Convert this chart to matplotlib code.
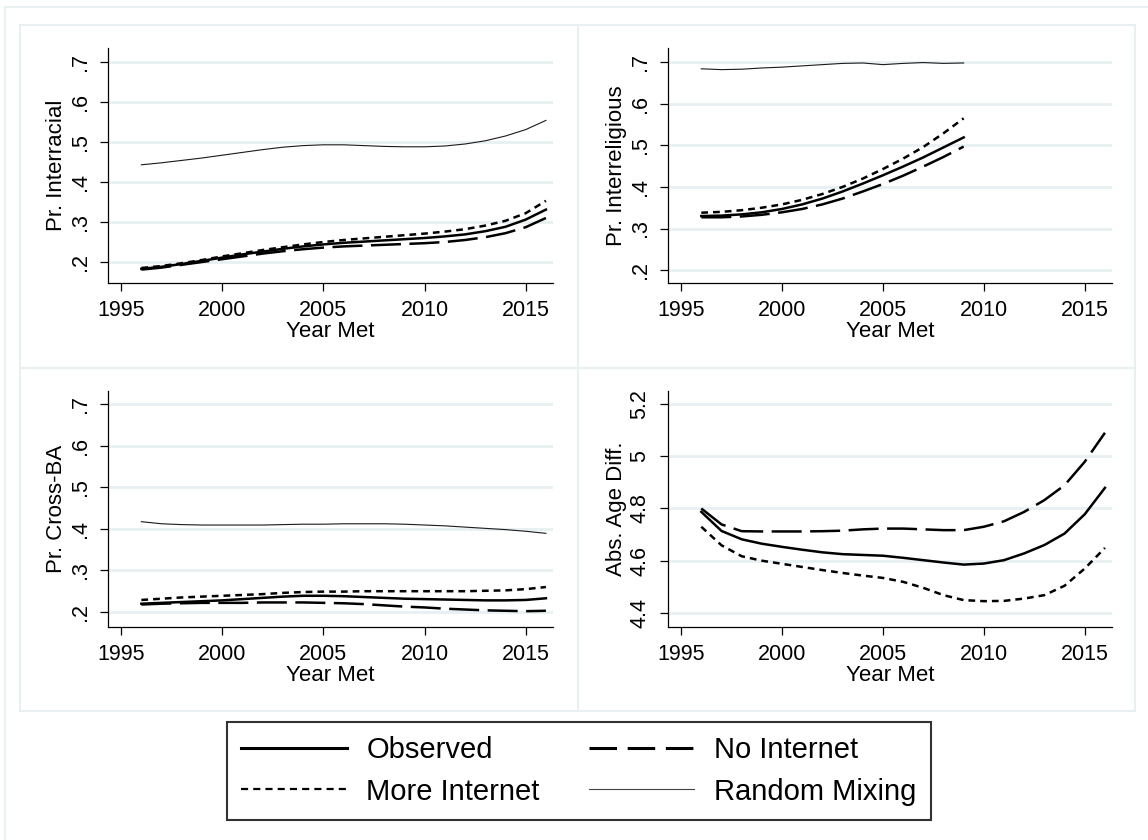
import matplotlib.pyplot as plt
from matplotlib.patches import Rectangle
from matplotlib.lines import Line2D

plt.rcParams['font.family'] = ['Liberation Sans', 'DejaVu Sans']

years = list(range(1996, 2017))
years_rel = list(range(1996, 2010))

# Pr. Interracial
race_obs = [.183, .188, .195, .203, .211, .219, .226, .233, .239, .244, .248, .251, .254, .257, .260, .264, .269, .277, .288, .306, .331]
race_more = [.185, .190, .197, .205, .214, .222, .230, .237, .244, .250, .255, .259, .263, .267, .271, .276, .282, .291, .303, .322, .353]
race_none = [.181, .186, .193, .200, .207, .214, .221, .227, .232, .236, .239, .241, .243, .245, .247, .250, .255, .262, .272, .287, .310]
race_rand = [.443, .448, .454, .460, .467, .474, .481, .487, .491, .493, .493, .491, .489, .488, .488, .490, .495, .503, .515, .531, .554]

# Pr. Interreligious (ends 2009)
rel_obs = [.330, .331, .334, .339, .347, .358, .372, .389, .408, .428, .449, .471, .495, .519]
rel_more = [.338, .340, .344, .350, .358, .369, .383, .400, .420, .443, .468, .496, .529, .565]
rel_none = [.327, .327, .329, .333, .339, .347, .358, .372, .389, .407, .427, .449, .472, .497]
rel_rand = [.684, .682, .683, .686, .688, .691, .694, .697, .698, .694, .697, .699, .697, .698]

# Pr. Cross-BA
ba_obs = [.220, .222, .224, .226, .228, .231, .234, .237, .239, .239, .238, .236, .234, .232, .231, .230, .229, .228, .228, .229, .233]
ba_more = [.229, .232, .235, .237, .239, .241, .243, .246, .248, .249, .249, .250, .250, .250, .250, .250, .250, .251, .252, .255, .260]
ba_none = [.218, .220, .221, .222, .222, .222, .223, .223, .223, .222, .221, .219, .216, .213, .211, .208, .206, .204, .203, .202, .203]
ba_rand = [.417, .412, .410, .409, .409, .409, .409, .410, .411, .411, .412, .412, .412, .411, .409, .407, .404, .401, .398, .394, .389]

# Abs. Age Diff.
age_obs = [4.787, 4.714, 4.682, 4.665, 4.653, 4.642, 4.632, 4.625, 4.622, 4.619, 4.611, 4.602, 4.593, 4.585, 4.589, 4.602, 4.628, 4.660, 4.704, 4.778, 4.879]
age_none = [4.800, 4.739, 4.713, 4.712, 4.712, 4.712, 4.713, 4.715, 4.720, 4.723, 4.723, 4.720, 4.717, 4.717, 4.730, 4.751, 4.787, 4.832, 4.889, 4.979, 5.090]
age_more = [4.730, 4.659, 4.617, 4.600, 4.588, 4.576, 4.564, 4.553, 4.543, 4.534, 4.519, 4.496, 4.468, 4.449, 4.445, 4.446, 4.455, 4.468, 4.504, 4.570, 4.649]

x_ticks = [1995, 2000, 2005, 2010, 2015]
pr_ticks = [.2, .3, .4, .5, .6, .7]
pr_labels = ['.2', '.3', '.4', '.5', '.6', '.7']
age_ticks = [4.4, 4.6, 4.8, 5.0, 5.2]
age_labels = ['4.4', '4.6', '4.8', '5', '5.2']

legend_labels = ['Observed', 'No Internet', 'More Internet', 'Random Mixing']

W, H = 1148, 840
GRID = '#e8f0f2'
LW = 1.8
obs_style = dict(color='black', lw=LW, ls='-')
none_style = dict(color='black', lw=LW, ls=(0, (12, 3.4)))
more_style = dict(color='black', lw=LW, ls=(0, (2.7, 2.0)))
rand_style = dict(color='#1a1a1a', lw=0.8, ls='-')


def px_box(x0, y0, x1, y1):
    # pixel box (from top-left) -> figure fraction [l, b, w, h]
    return [x0 / W, 1 - y1 / H, (x1 - x0) / W, (y1 - y0) / H]


def style_axes(ax, ylabel, ylim, yticks, ylabels):
    ax.set_xlim(1994.35, 2016.35)
    ax.set_ylim(*ylim)
    ax.set_xticks(x_ticks)
    ax.set_xticklabels([str(t) for t in x_ticks], fontsize=15.5)
    ax.set_yticks(yticks)
    ax.set_yticklabels(ylabels, fontsize=15.5, rotation=90, va='center')
    ax.tick_params(axis='both', length=6, width=0.9, pad=6.5, direction='out')
    for s in ['top', 'right']:
        ax.spines[s].set_visible(False)
    for s in ['left', 'bottom']:
        ax.spines[s].set_linewidth(0.9)
    ax.yaxis.grid(True, color=GRID, lw=2)
    ax.set_axisbelow(True)
    ax.set_xlabel('Year Met', fontsize=16, labelpad=0)
    ax.set_ylabel(ylabel, fontsize=16, labelpad=2)


fig = plt.figure(figsize=(W / 100, H / 100), dpi=100)

# panel frames and outer frame
for (x0, y0, x1, y1) in [(20, 25, 578, 368), (578, 25, 1135, 368),
                         (20, 368, 578, 711), (578, 368, 1135, 711)]:
    l, b, w, h = px_box(x0, y0, x1, y1)
    fig.add_artist(Rectangle((l, b), w, h, transform=fig.transFigure,
                             fill=False, edgecolor=GRID, lw=1.5))
fig.add_artist(Line2D([5 / W, 5 / W], [0, 1 - 7 / H], transform=fig.transFigure, color=GRID, lw=1.5))
fig.add_artist(Line2D([5 / W, 1], [1 - 7 / H, 1 - 7 / H], transform=fig.transFigure, color=GRID, lw=1.5))

ax1 = fig.add_axes(px_box(108, 48, 553, 283))
ax2 = fig.add_axes(px_box(668, 48, 1112, 283))
ax3 = fig.add_axes(px_box(108, 391, 553, 627))
ax4 = fig.add_axes(px_box(668, 391, 1112, 627))

ax1.plot(years, race_obs, **obs_style)
ax1.plot(years, race_none, **none_style)
ax1.plot(years, race_more, **more_style)
ax1.plot(years, race_rand, **rand_style)
style_axes(ax1, 'Pr. Interracial', (0.1475, 0.735), pr_ticks, pr_labels)

ax2.plot(years_rel, rel_obs, **obs_style)
ax2.plot(years_rel, rel_none, **none_style)
ax2.plot(years_rel, rel_more, **more_style)
ax2.plot(years_rel, rel_rand, **rand_style)
style_axes(ax2, 'Pr. Interreligious', (0.169, 0.734), pr_ticks, pr_labels)

ax3.plot(years, ba_obs, **obs_style)
ax3.plot(years, ba_none, **none_style)
ax3.plot(years, ba_more, **more_style)
ax3.plot(years, ba_rand, **rand_style)
style_axes(ax3, 'Pr. Cross-BA', (0.164, 0.731), pr_ticks, pr_labels)

ax4.plot(years, age_obs, **obs_style)
ax4.plot(years, age_none, **none_style)
ax4.plot(years, age_more, **more_style)
style_axes(ax4, 'Abs. Age Diff.', (4.346, 5.25), age_ticks, age_labels)

leg_handles = [Line2D([], [], color='black', lw=2.2, ls='-'),
               Line2D([], [], color='black', lw=2.2, ls=(0, (9, 3.5))),
               Line2D([], [], color='black', lw=1.6, ls=(0, (3.2, 2.3))),
               Line2D([], [], color='#444444', lw=0.8, ls='-')]
# order so that ncol=2 fills columns: col1 Observed/More, col2 No/Random
order = [0, 2, 1, 3]
leg = fig.legend([leg_handles[i] for i in order], [legend_labels[i] for i in order],
                 ncol=2, loc='center', bbox_to_anchor=(579 / W, 1 - 771 / H),
                 fontsize=21, frameon=True, fancybox=False, edgecolor='black',
                 handlelength=3.6, handletextpad=0.68, columnspacing=1.7,
                 labelspacing=0.45, borderpad=0.5)
leg.get_frame().set_linewidth(1.5)

fig.savefig('out.png', dpi=100, facecolor='white')
